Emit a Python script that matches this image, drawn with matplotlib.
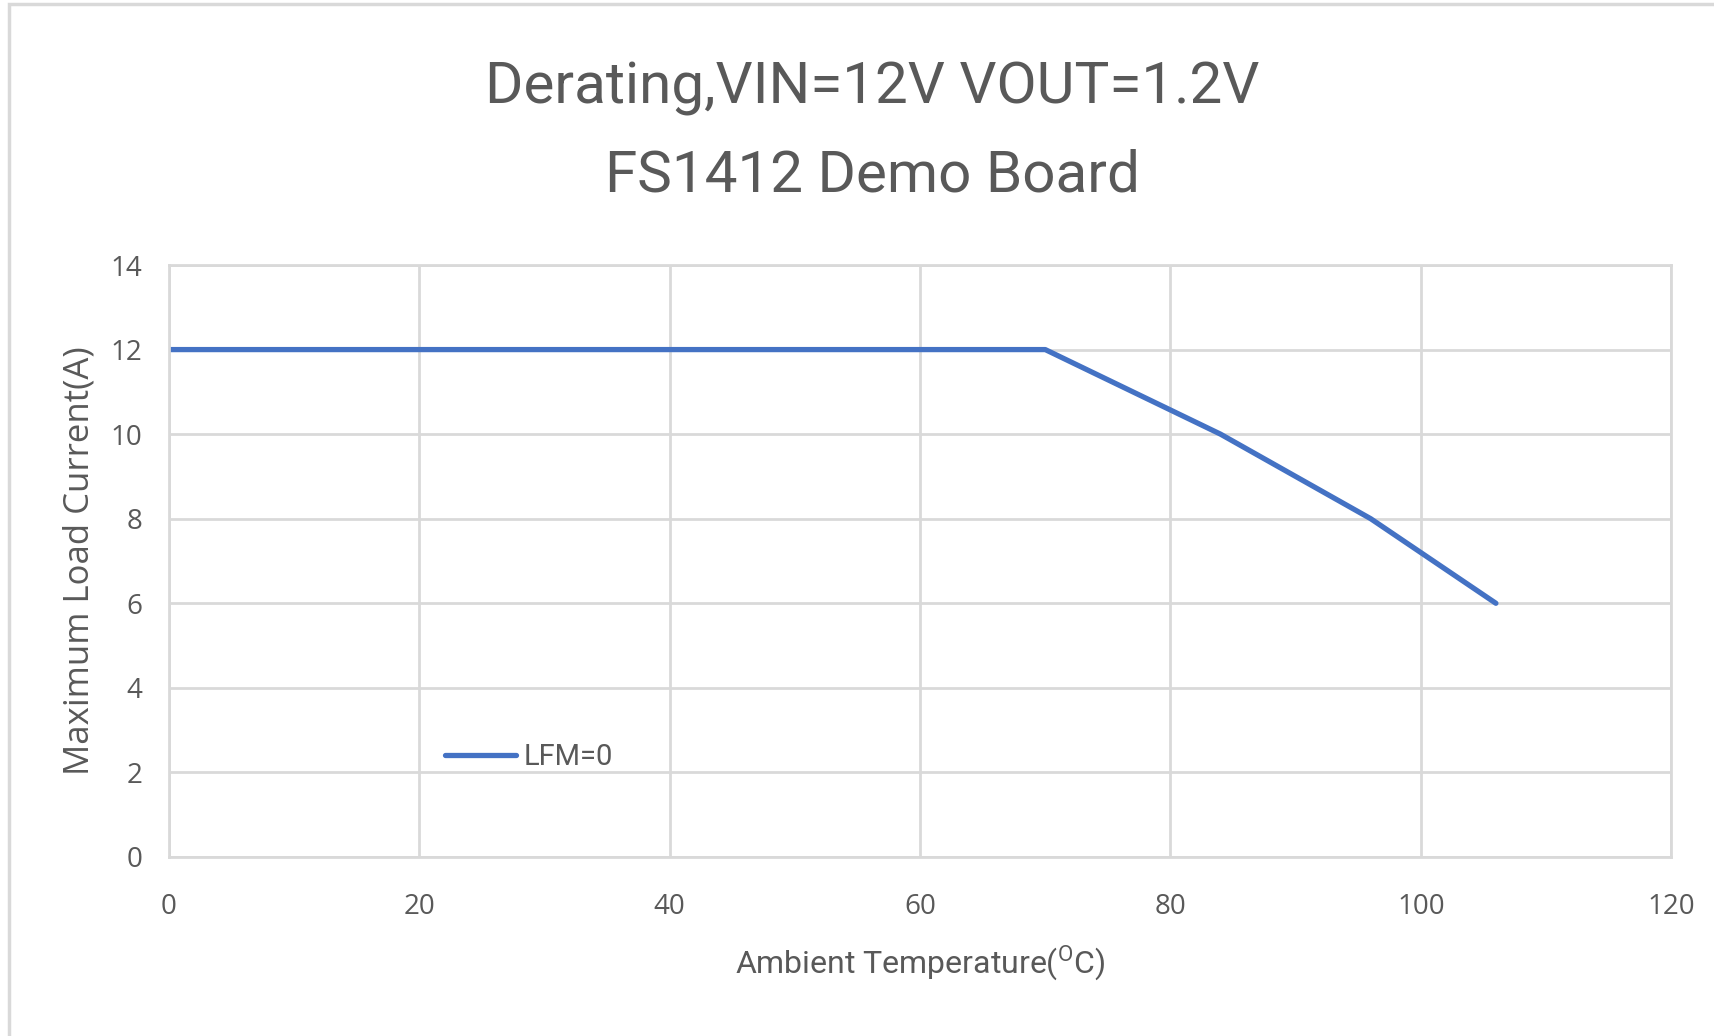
import matplotlib
matplotlib.use("Agg")
import matplotlib.pyplot as plt
from matplotlib.patches import Rectangle

# derating curve, LFM=0
temperature = [0, 70, 84, 96, 106]
load_current = [12, 12, 10, 8, 6]
series_label = "LFM=0"

x_ticks = [0, 20, 40, 60, 80, 100, 120]
y_ticks = [0, 2, 4, 6, 8, 10, 12, 14]

title_lines = ["Derating,VIN=12V VOUT=1.2V", "FS1412 Demo Board"]

TEXT = "#595959"
GRID = "#d9d9d9"
LINE = "#4472C4"
NARROW = ["Roboto", "DejaVu Sans"]

plt.rcParams["font.family"] = ["Open Sans", "DejaVu Sans"]
plt.rcParams["mathtext.fontset"] = "custom"
plt.rcParams["mathtext.rm"] = "Roboto"

fig = plt.figure(figsize=(17.14, 10.36), dpi=100)
fig.patches.append(Rectangle((9 / 1714, -0.1), 1.2, 1 - 4 / 1036 + 0.1,
                             transform=fig.transFigure, fill=False,
                             edgecolor=GRID, linewidth=2.5))

ax = fig.add_axes([0.0986, 0.1728, 0.8764, 0.5714])
ax.plot(temperature, load_current, color=LINE, linewidth=3.8, label=series_label,
        solid_capstyle="round")

ax.set_xlim(0, 120)
ax.set_ylim(0, 14)
ax.set_xticks(x_ticks)
ax.set_yticks(y_ticks)
ax.grid(True, color=GRID, linewidth=2)
ax.set_axisbelow(True)
for sp in ax.spines.values():
    sp.set_color(GRID)
    sp.set_linewidth(2)
ax.tick_params(length=0, labelsize=20, colors=TEXT)
ax.tick_params(axis="x", pad=26)
ax.tick_params(axis="y", pad=19)

ax.set_xlabel("Ambient Temperature($^{\\mathrm{O}}$C)", fontsize=23, color=TEXT,
              family=NARROW, labelpad=16)
ax.set_ylabel("Maximum Load Current(A)", fontsize=25, color=TEXT, labelpad=10)

fig.text(0.509, 1 - 89 / 1036, title_lines[0], ha="center", va="center",
         fontsize=42, color=TEXT, family=NARROW)
fig.text(0.509, 1 - 176 / 1036, title_lines[1], ha="center", va="center",
         fontsize=42, color=TEXT, family=NARROW)

leg = ax.legend(loc="center left", bbox_to_anchor=(0.166, 0.169), frameon=False,
                fontsize=21, handlelength=2.45, handletextpad=0.25)
for t in leg.get_texts():
    t.set_color(TEXT)
    t.set_family(NARROW)

fig.savefig("out.png", dpi=100)
